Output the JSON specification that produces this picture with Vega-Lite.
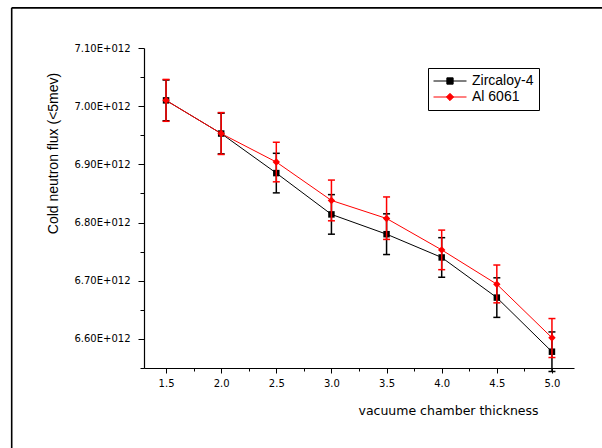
{
  "$schema": "https://vega.github.io/schema/vega-lite/v6.json",
  "width": 430,
  "height": 320,
  "autosize": {"type": "none"},
  "padding": {"left": 144, "top": 48, "right": 28, "bottom": 80},
  "background": "white",
  "config": {
    "view": {"stroke": null},
    "axis": {"grid": false, "domainColor": "black", "tickColor": "black", "labelColor": "black", "titleColor": "black", "labelFont": "DejaVu Sans", "labelFontSize": 10, "titleFontWeight": "normal", "titleFont": "Liberation Sans", "titleFontSize": 14, "domainWidth": 1.2}
  },
  "datasets": {
    "flux": [
      {"series": "Zircaloy-4", "t": 1.5, "flux": 7.010e12, "lo": 6.975e12, "hi": 7.045e12},
      {"series": "Zircaloy-4", "t": 2.0, "flux": 6.953e12, "lo": 6.918e12, "hi": 6.988e12},
      {"series": "Zircaloy-4", "t": 2.5, "flux": 6.885e12, "lo": 6.851e12, "hi": 6.919e12},
      {"series": "Zircaloy-4", "t": 3.0, "flux": 6.814e12, "lo": 6.780e12, "hi": 6.848e12},
      {"series": "Zircaloy-4", "t": 3.5, "flux": 6.780e12, "lo": 6.745e12, "hi": 6.815e12},
      {"series": "Zircaloy-4", "t": 4.0, "flux": 6.740e12, "lo": 6.706e12, "hi": 6.774e12},
      {"series": "Zircaloy-4", "t": 4.5, "flux": 6.671e12, "lo": 6.637e12, "hi": 6.705e12},
      {"series": "Zircaloy-4", "t": 5.0, "flux": 6.578e12, "lo": 6.544e12, "hi": 6.612e12},
      {"series": "Al 6061", "t": 1.5, "flux": 7.010e12, "lo": 6.974e12, "hi": 7.046e12},
      {"series": "Al 6061", "t": 2.0, "flux": 6.953e12, "lo": 6.917e12, "hi": 6.989e12},
      {"series": "Al 6061", "t": 2.5, "flux": 6.904e12, "lo": 6.870e12, "hi": 6.938e12},
      {"series": "Al 6061", "t": 3.0, "flux": 6.838e12, "lo": 6.803e12, "hi": 6.873e12},
      {"series": "Al 6061", "t": 3.5, "flux": 6.807e12, "lo": 6.771e12, "hi": 6.844e12},
      {"series": "Al 6061", "t": 4.0, "flux": 6.753e12, "lo": 6.719e12, "hi": 6.787e12},
      {"series": "Al 6061", "t": 4.5, "flux": 6.694e12, "lo": 6.662e12, "hi": 6.727e12},
      {"series": "Al 6061", "t": 5.0, "flux": 6.602e12, "lo": 6.568e12, "hi": 6.635e12}
    ],
    "frame": [
      {"t": 0.1, "t2": 0.1, "flux": 6.39e12, "flux2": 7.169e12},
      {"t": 0.1, "t2": 5.6, "flux": 7.169e12, "flux2": 7.169e12}
    ]
  },
  "layer": [
    {
      "data": {"name": "flux"},
      "transform": [{"filter": "datum.series === 'Zircaloy-4'"}],
      "mark": {"type": "line", "color": "black", "strokeWidth": 1},
      "encoding": {
        "x": {"field": "t", "type": "quantitative", "scale": {"domain": [1.3, 5.2], "zero": false, "nice": false},
          "axis": {"title": "vacuume chamber thickness", "values": [1.5, 1.75, 2.0, 2.25, 2.5, 2.75, 3.0, 3.25, 3.5, 3.75, 4.0, 4.25, 4.5, 4.75, 5.0],
            "tickCount": 100,
            "labelExpr": "(datum.value * 2) % 1 === 0 ? format(datum.value, '.1f') : ''",
            "tickSize": {"condition": {"test": "(datum.value * 2) % 1 === 0", "value": 5}, "value": 3},
            "labelPadding": 5, "labelFlush": false, "labelOverlap": false,
            "titleX": 304, "titleY": 46, "titleAlign": "center", "titleBaseline": "alphabetic", "titleFont": "DejaVu Sans", "titleFontSize": 12.5}},
        "y": {"field": "flux", "type": "quantitative", "scale": {"domain": [6.55e12, 7.1e12], "zero": false, "nice": false},
          "axis": {"title": "Cold neutron flux (<5mev)", "values": [6.55e12, 6.6e12, 6.65e12, 6.7e12, 6.75e12, 6.8e12, 6.85e12, 6.9e12, 6.95e12, 7.0e12, 7.05e12, 7.1e12],
            "tickCount": 100,
            "labelExpr": "abs(datum.value / 1e11 - round(datum.value / 1e11)) < 0.01 ? format(datum.value / 1e12, '.2f') + 'E+012' : ''",
            "tickSize": {"condition": {"test": "abs(datum.value / 1e11 - round(datum.value / 1e11)) < 0.01", "value": 6}, "value": 4},
            "labelPadding": 8, "labelFlush": false, "labelOverlap": false,
            "titleX": -91, "titleY": 105, "titleAlign": "center", "titleBaseline": "middle", "titleAngle": -90}}
      }
    },
    {
      "data": {"name": "frame"},
      "mark": {"type": "rule", "color": "black", "strokeWidth": 1.6},
      "encoding": {
        "x": {"field": "t", "type": "quantitative"},
        "x2": {"field": "t2"},
        "y": {"field": "flux", "type": "quantitative"},
        "y2": {"field": "flux2"}
      }
    },
    {
      "data": {"name": "flux"},
      "transform": [{"filter": "datum.series === 'Zircaloy-4'"}],
      "mark": {"type": "rule", "color": "black", "strokeWidth": 1.5},
      "encoding": {
        "x": {"field": "t", "type": "quantitative"},
        "y": {"field": "lo", "type": "quantitative"},
        "y2": {"field": "hi"}
      }
    },
    {
      "data": {"name": "flux"},
      "transform": [{"filter": "datum.series === 'Zircaloy-4'"}, {"fold": ["lo", "hi"], "as": ["end", "v"]}],
      "mark": {"type": "tick", "color": "black", "orient": "horizontal", "size": 7, "thickness": 1.5, "opacity": 1},
      "encoding": {
        "x": {"field": "t", "type": "quantitative"},
        "y": {"field": "v", "type": "quantitative"}
      }
    },
    {
      "data": {"name": "flux"},
      "transform": [{"filter": "datum.series === 'Zircaloy-4'"}],
      "mark": {"type": "point", "shape": "square", "filled": true, "color": "black", "size": 42, "opacity": 1},
      "encoding": {
        "x": {"field": "t", "type": "quantitative"},
        "y": {"field": "flux", "type": "quantitative"}
      }
    },
    {
      "data": {"name": "flux"},
      "transform": [{"filter": "datum.series === 'Al 6061'"}],
      "mark": {"type": "line", "color": "#ff0000", "strokeWidth": 1},
      "encoding": {
        "x": {"field": "t", "type": "quantitative"},
        "y": {"field": "flux", "type": "quantitative"}
      }
    },
    {
      "data": {"name": "flux"},
      "transform": [{"filter": "datum.series === 'Al 6061'"}],
      "mark": {"type": "rule", "color": "#ff0000", "strokeWidth": 1.5},
      "encoding": {
        "x": {"field": "t", "type": "quantitative"},
        "y": {"field": "lo", "type": "quantitative"},
        "y2": {"field": "hi"}
      }
    },
    {
      "data": {"name": "flux"},
      "transform": [{"filter": "datum.series === 'Al 6061'"}, {"fold": ["lo", "hi"], "as": ["end", "v"]}],
      "mark": {"type": "tick", "color": "#ff0000", "orient": "horizontal", "size": 7, "thickness": 1.5, "opacity": 1},
      "encoding": {
        "x": {"field": "t", "type": "quantitative"},
        "y": {"field": "v", "type": "quantitative"}
      }
    },
    {
      "data": {"name": "flux"},
      "transform": [{"filter": "datum.series === 'Al 6061'"}],
      "mark": {"type": "point", "shape": "diamond", "filled": true, "color": "#ff0000", "size": 55, "opacity": 1},
      "encoding": {
        "x": {"field": "t", "type": "quantitative"},
        "y": {"field": "flux", "type": "quantitative"}
      }
    },
    {
      "data": {"name": "flux"},
      "mark": {"type": "point", "filled": true, "opacity": 0},
      "encoding": {
        "x": {"field": "t", "type": "quantitative"},
        "y": {"field": "flux", "type": "quantitative"},
        "color": {"field": "series", "type": "nominal",
          "scale": {"domain": ["Zircaloy-4", "Al 6061"], "range": ["#000000", "#ff0000"]},
          "legend": {"title": null, "orient": "none", "legendX": 284, "legendY": 20, "strokeColor": "black", "fillColor": "white", "padding": 5,
            "symbolSize": 1089, "clipHeight": 16, "labelFont": "Liberation Sans", "labelFontSize": 14, "labelColor": "black", "labelOffset": 5,
            "symbolStrokeWidth": 1, "symbolOpacity": 1, "rowPadding": 0,
            "encode": {"symbols": {"update": {"stroke": {"scale": "color", "field": "value"}, "fill": {"scale": "color", "field": "value"}, "opacity": {"value": 1}, "fillOpacity": {"value": 1}, "strokeOpacity": {"value": 1}}}}}},
        "shape": {"field": "series", "type": "nominal",
          "scale": {"domain": ["Zircaloy-4", "Al 6061"], "range": ["M-1,0H1M-0.19,-0.19H0.19V0.19H-0.19Z", "M-1,0H1M0,-0.22L0.22,0L0,0.22L-0.22,0Z"]},
          "legend": {"title": null}}
      }
    }
  ]
}
